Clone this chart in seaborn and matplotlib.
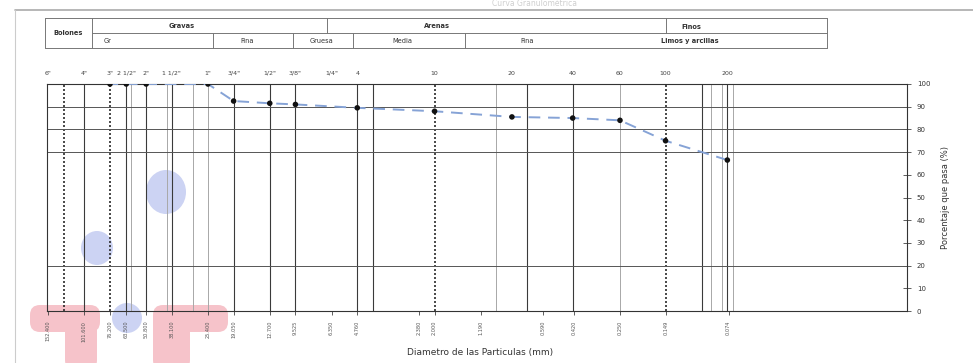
import numpy as np
import pandas as pd
import matplotlib
matplotlib.use("Agg")
import matplotlib.pyplot as plt
import seaborn as sns
from matplotlib.lines import Line2D
from matplotlib.patches import Ellipse, FancyBboxPatch
from matplotlib.ticker import NullLocator, FixedLocator

# granulometria - tamices y porcentaje que pasa
sieve_names = ['3"', '2 1/2"', '2"', '1"', '3/4"', '1/2"', '3/8"', '#4', '#10', '#20', '#40', '#60', '#100', '#200']
diam_mm = [76.2, 63.5, 50.8, 25.4, 19.05, 12.7, 9.525, 4.76, 2.0, 0.84, 0.425, 0.25, 0.15, 0.075]
pct_pass = [100, 100, 100, 100, 92.5, 91.5, 91, 89.5, 88, 85.5, 85, 84, 75, 66.5]

top_tick_mm = [152.4, 101.6, 76.2, 63.5, 50.8, 38.1, 25.4, 19.05, 12.7, 9.525, 6.35, 4.76,
               2.0, 0.84, 0.425, 0.25, 0.15, 0.075]
top_tick_txt = ['6"', '4"', '3"', '2 1/2"', '2"', '1 1/2"', '1"', '3/4"', '1/2"', '3/8"', '1/4"', '4',
                '10', '20', '40', '60', '100', '200']

bottom_tick_mm = [152.4, 101.6, 76.2, 63.5, 50.8, 38.1, 25.4, 19.05, 12.7, 9.525, 6.35, 4.76,
                  2.38, 2.0, 1.19, 0.59, 0.42, 0.25, 0.149, 0.074]
bottom_tick_txt = [f"{v:.3f}" for v in bottom_tick_mm]

# lineas verticales de la cuadricula
vline_solid = [101.6, 63.5, 50.8, 38.1, 19.05, 12.7, 9.525, 4.76, 4.0, 0.71, 0.425, 0.1, 0.075]
vline_dotted = [127.0, 76.2, 2.0, 0.15]
vline_light = [60.0, 40.0, 30.0, 25.4, 1.0, 0.25, 0.09, 0.08, 0.07]
hlines = [20, 70, 80, 90]

df = pd.DataFrame({"tamiz": sieve_names, "diametro": diam_mm, "pasa": pct_pass})

W, H = 973, 363
fig = plt.figure(figsize=(W / 100, H / 100), dpi=100)
fig.patch.set_facecolor("white")
sns.set_style("white")
plt.rcParams['font.family'] = ['DejaVu Sans']


def inch(x, y):
    return (x / 100, (H - y) / 100)


ax = fig.add_axes([46.7 / W, 1 - 311 / H, (907 - 46.7) / W, (311 - 84) / H])
ax.set_facecolor("none")
ax.set_xscale("log")
ax.set_xlim(155, 0.01)
ax.set_ylim(0, 100)

for d in vline_solid:
    ax.axvline(d, color="#3a3a3a", lw=0.8, zorder=1)
for d in vline_dotted:
    ax.axvline(d, color="#2a2a2a", lw=1.2, ls=(0, (1.2, 1.2)), zorder=1)
for d in vline_light:
    ax.axvline(d, color="#a8a8a8", lw=0.7, zorder=1)
for h in hlines:
    ax.axhline(h, color="#555555", lw=0.7, zorder=1)

sns.lineplot(data=df, x="diametro", y="pasa", ax=ax, color="#86a3d6", lw=1.4,
             linestyle=(0, (6, 4)), zorder=3)
sns.scatterplot(data=df, x="diametro", y="pasa", ax=ax, color="#111111", s=16,
                edgecolor="none", zorder=4)

ax.xaxis.set_major_locator(FixedLocator(bottom_tick_mm))
ax.xaxis.set_minor_locator(NullLocator())
ax.set_xticklabels(bottom_tick_txt, rotation=90, fontsize=3.6, color="#555555")
ax.tick_params(axis="x", length=3, width=0.6, color="#444444", pad=4)
ax.set_xlabel("")

ax.yaxis.tick_right()
ax.yaxis.set_label_position("right")
ax.set_yticks(np.arange(0, 101, 10))
ax.set_yticklabels([str(v) for v in range(0, 101, 10)], fontsize=5, color="#333333")
ax.tick_params(axis="y", direction="inout", length=6, width=0.6, color="#444444", pad=4)
ax.set_ylabel("Porcentaje que pasa (%)", fontsize=6, color="#333333", labelpad=8)

for s in ax.spines.values():
    s.set_color("#333333")
    s.set_linewidth(0.8)

ax2 = ax.twiny()
ax2.set_xscale("log")
ax2.set_xlim(ax.get_xlim())
ax2.xaxis.set_major_locator(FixedLocator(top_tick_mm))
ax2.xaxis.set_minor_locator(NullLocator())
ax2.set_xticklabels(top_tick_txt, fontsize=4.5, color="#444444")
ax2.tick_params(axis="x", length=0, pad=6)
for s in ax2.spines.values():
    s.set_visible(False)

fig.text(480 / W, 1 - 352 / H, "Diametro de las Particulas (mm)", fontsize=6.5,
         color="#333333", ha="center", va="center")

# marco del area del grafico y titulo
fig.add_artist(Line2D([15 / W, 1], [1 - 10 / H, 1 - 10 / H], color="#aaaaaa", lw=1.2))
fig.add_artist(Line2D([15 / W, 15 / W], [0, 1 - 10 / H], color="#cccccc", lw=0.8))
fig.text(535 / W, 1 - 4 / H, "Curva Granulométrica", fontsize=5.5, color="#cfcfcf",
         ha="center", va="center")

# tabla de clasificacion
tab_lines = [
    ((45, 18), (827, 18)), ((45, 48), (827, 48)), ((45, 18), (45, 48)), ((827, 18), (827, 48)),
    ((92, 18), (92, 48)), ((92, 33), (827, 33)),
    ((327, 18), (327, 33)), ((666, 18), (666, 33)),
    ((213, 33), (213, 48)), ((293, 33), (293, 48)), ((353, 33), (353, 48)), ((465, 33), (465, 48)),
]
for (x0, y0), (x1, y1) in tab_lines:
    fig.add_artist(Line2D([x0 / W, x1 / W], [1 - y0 / H, 1 - y1 / H], color="#777777", lw=0.7))

tab_text = [
    (68, 33, "Bolones", True), (182, 26, "Gravas", True), (437, 26, "Arenas", True),
    (691, 27, "Finos", True), (108, 41, "Gr", False), (247, 41, "Fina", False),
    (322, 41, "Gruesa", False), (402, 41, "Media", False), (527, 41, "Fina", False),
    (690, 41, "Limos y arcillas", True),
]
for x, y, t, b in tab_text:
    fig.text(x / W, 1 - y / H, t, fontsize=4.8, color="#333333", ha="center", va="center",
             fontweight="bold" if b else "normal")

# marcas de resaltador del escaneo
pink = "#f6c3ca"
blue = "#ccd3f3"
tr = fig.dpi_scale_trans
for (x0, y0, x1, y1) in [(30, 305, 100, 332), (65, 315, 97, 370), (153, 305, 228, 332), (153, 315, 190, 370)]:
    xy = inch(x0, y1)
    fig.add_artist(FancyBboxPatch(xy, (x1 - x0) / 100, (y1 - y0) / 100,
                                  boxstyle="round,pad=0,rounding_size=0.1",
                                  transform=tr, facecolor=pink, edgecolor="none", zorder=-1))
for (cx, cy, w, h) in [(97, 248, 32, 34), (166, 192, 40, 44), (127, 318, 30, 30)]:
    fig.add_artist(Ellipse(inch(cx, cy), w / 100, h / 100, transform=tr,
                           facecolor=blue, edgecolor="none", zorder=-1))

fig.savefig("out.png", dpi=100, facecolor="white")
